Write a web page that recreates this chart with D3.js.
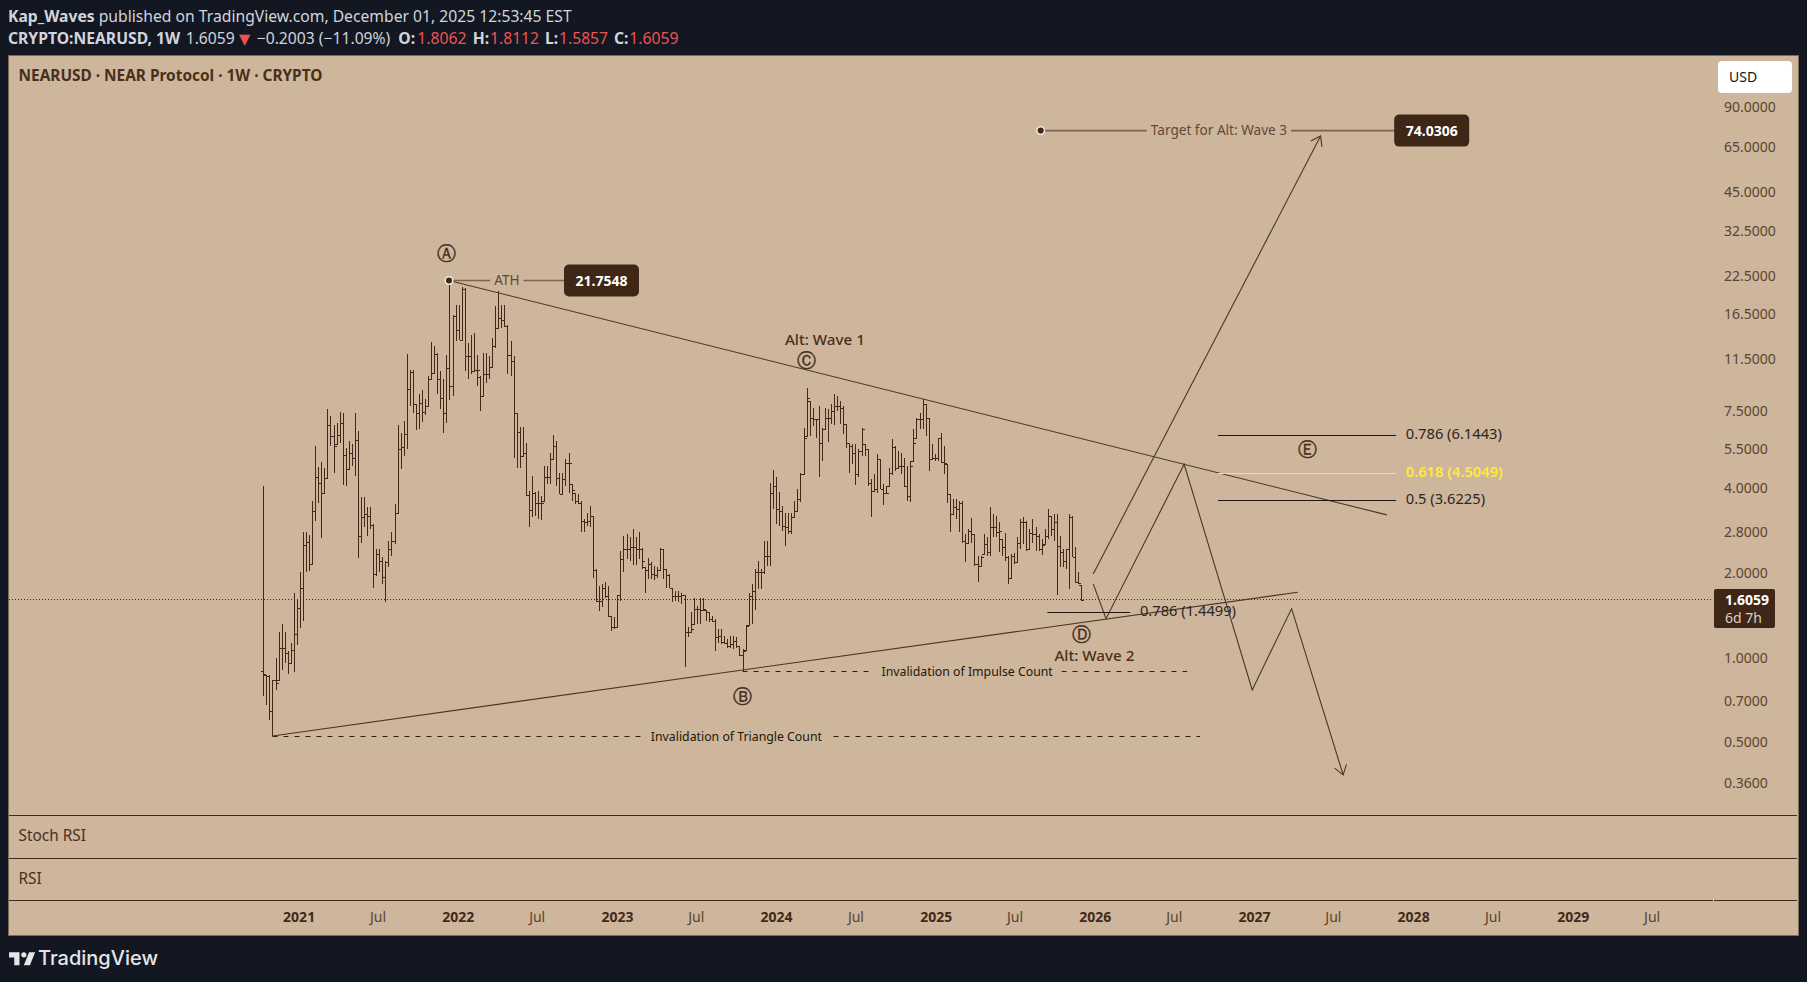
<!DOCTYPE html>
<html lang="en">
<head>
    <meta charset="utf-8">
    <style>
        html, body { margin: 0; background: #131722; overflow: hidden; }
        svg { display: block; }
        text { font-family: "Noto Sans", sans-serif; }
    </style>
</head>
<body>
    <svg width="1807" height="982"></svg>
    <script src="https://cdn.jsdelivr.net/npm/d3@7"></script>
    <script>
        /************************************************************************************
        * Data - weekly bars
        ************************************************************************************/
        const firstWeek = "2020-10-12";
        const highs = [
            4.05,.87,.865,.835,1.0,1.23,1.32,1.235,1.055,1.13,1.69,1.62,2.01,2.80,2.78,2.72,3.58,5.63,4.76,4.96,
            4.72,7.64,7.19,6.67,6.78,7.43,7.39,5.55,5.87,5.71,7.39,6.36,3.70,3.70,3.41,3.41,2.98,2.43,2.43,2.27,
            2.21,2.60,2.80,3.52,6.67,6.28,6.90,11.98,10.46,10.46,7.92,8.58,8.88,8.28,10.0,13.2,12.71,12.04,10.43,9.70,
            11.88,21.7548,16.4,17.85,17.85,20.6,20.4,13.06,14.0,14.17,11.88,9.96,12.04,12.04,11.72,13.6,17.61,19.9,17.85,17.85,
            15.17,13.24,11.72,7.39,6.6,6.6,5.79,3.90,4.41,3.88,3.90,3.75,4.79,4.79,5.34,6.16,5.87,4.53,4.53,5.05,
            5.34,4.12,3.85,3.80,3.60,3.10,3.27,3.46,3.19,2.06,1.80,1.82,1.85,1.80,1.41,1.39,1.67,2.39,2.71,2.75,
            2.67,2.87,2.67,2.78,2.44,2.09,2.25,2.19,2.11,2.10,2.44,2.43,2.06,1.98,1.77,1.72,1.72,1.70,1.67,1.28,
            1.45,1.63,1.53,1.63,1.63,1.47,1.45,1.41,1.37,1.26,1.26,1.19,1.16,1.19,1.19,1.18,1.10,1.07,1.30,1.70,
            1.82,2.06,2.21,2.06,2.60,2.60,4.18,4.63,4.36,3.87,3.46,3.27,3.27,3.27,3.60,3.96,4.53,6.54,9.06,8.13,
            7.70,7.0,7.80,6.54,7.70,7.60,7.91,8.58,8.47,8.13,7.80,6.72,5.79,5.71,5.71,5.48,6.54,5.71,5.48,4.30,
            4.47,5.26,5.05,4.12,4.07,4.72,5.95,5.63,5.41,5.34,5.12,4.79,4.98,6.45,7.10,7.35,8.3,7.91,7.10,5.73,
            5.26,6.03,6.28,5.63,4.85,3.80,3.65,3.65,3.60,3.60,2.75,2.86,3.12,2.75,2.30,2.30,2.75,2.67,3.41,3.23,
            3.19,3.02,2.63,2.76,2.30,2.33,2.35,2.67,3.10,3.15,3.06,2.86,3.10,2.90,2.75,2.63,2.86,3.38,3.19,3.23,
            3.23,2.71,2.43,2.43,3.23,3.19,2.46,2.02,1.8112
        ];
        const lows = [
            .73,.68,.60,.5275,.765,.835,.905,.96,.875,.96,.89,1.11,1.27,1.35,2.02,2.03,2.15,3.06,3.55,2.65,
            3.85,4.30,5.63,4.53,5.71,5.79,4.09,4.07,4.66,4.79,4.41,2.25,2.56,2.90,2.71,2.87,1.77,1.95,2.01,1.82,
            1.58,2.09,2.30,2.53,3.27,4.66,5.19,5.48,7.80,7.39,6.42,6.45,6.85,7.28,7.80,9.70,10.1,8.58,7.60,6.28,
            6.78,8.2,8.47,13.24,13.42,13.24,10.4,9.70,10.1,10.4,9.23,7.5,8.47,9.44,9.70,10.66,12.54,14.76,14.76,14.88,
            10.1,9.96,5.12,4.72,4.72,5.16,3.75,2.90,3.15,3.19,3.10,3.08,3.60,4.12,4.12,5.05,4.07,3.80,3.77,4.07,
            3.85,3.60,3.50,3.50,2.78,2.78,2.92,2.90,1.92,1.58,1.46,1.51,1.63,1.39,1.24,1.26,1.28,1.59,2.01,2.24,
            2.21,2.13,2.13,2.24,2.06,1.70,1.90,1.90,1.89,1.92,2.04,1.90,1.77,1.77,1.57,1.59,1.57,1.55,.925,1.18,
            1.23,1.32,1.32,1.32,1.47,1.35,1.34,1.34,1.055,1.13,1.12,1.115,1.085,1.085,1.07,1.085,1.01,.895,1.06,1.30,
            1.32,1.47,1.75,1.75,1.98,2.12,2.11,3.36,2.98,2.94,2.82,2.49,2.75,2.75,3.15,3.32,3.57,4.47,6.11,6.11,
            6.63,6.03,4.36,4.98,6.45,5.83,6.72,6.67,7.5,6.72,6.19,5.55,4.53,4.85,4.09,4.39,5.19,5.19,4.07,3.15,
            3.90,3.85,3.95,3.48,3.83,4.07,4.43,4.59,4.66,4.47,4.04,3.60,3.57,4.98,6.03,6.48,6.48,6.11,4.59,5.05,
            4.98,4.98,4.92,4.47,3.55,2.78,3.23,3.10,2.80,2.56,2.18,2.56,2.56,2.12,1.85,2.09,2.33,2.30,2.30,2.67,
            2.67,2.36,2.30,2.21,1.82,1.90,2.15,2.16,2.43,2.53,2.39,2.43,2.56,2.39,2.39,2.31,2.53,2.63,2.71,2.60,
            1.67,2.09,2.09,2.06,1.75,2.27,1.84,1.82,1.5857
        ];
        const closes = [
            .875,.86,.645,.83,.81,1.085,1.085,1.04,.96,1.065,1.21,1.50,1.765,2.50,2.57,2.15,3.32,4.36,4.15,3.85,
            4.33,6.67,6.11,5.63,6.16,6.81,5.22,4.68,5.34,5.12,5.92,2.71,3.15,3.23,3.19,2.96,1.98,2.33,2.21,1.93,
            2.19,2.43,2.60,3.27,5.51,5.60,6.19,9.0,10.3,7.92,7.35,8.02,7.43,7.80,9.70,10.23,11.98,9.70,8.35,7.39,
            10.66,9.18,16.3,14.56,13.42,20.3,11.72,11.72,10.4,10.46,10.52,8.47,10.1,10.15,10.75,12.71,14.76,16.0,15.8,15.05,
            11.88,11.25,7.39,6.31,5.19,5.34,3.77,3.34,3.83,3.55,3.55,3.55,4.36,4.36,5.05,5.63,4.32,3.80,4.30,4.92,
            4.92,3.94,3.60,3.55,3.06,3.02,3.06,3.19,2.05,1.59,1.59,1.77,1.65,1.40,1.28,1.28,1.67,2.24,2.43,2.43,
            2.46,2.46,2.43,2.43,2.21,2.04,2.15,1.98,1.96,2.04,2.43,2.06,1.96,1.77,1.66,1.66,1.66,1.67,1.23,1.23,
            1.26,1.49,1.49,1.48,1.49,1.45,1.37,1.35,1.18,1.19,1.14,1.13,1.10,1.115,1.145,1.10,1.025,1.055,1.29,1.66,
            1.72,2.01,2.01,2.01,2.30,2.30,3.85,4.07,3.36,3.32,2.94,2.90,2.82,3.15,3.32,3.65,4.47,6.03,8.35,7.10,
            7.0,7.0,5.79,6.48,7.10,7.10,7.5,7.84,7.84,7.70,6.72,5.79,5.63,5.34,4.47,5.41,6.48,5.48,4.18,3.90,
            3.96,5.05,3.97,3.85,3.85,4.53,5.60,4.72,4.79,4.79,4.07,3.75,4.79,5.79,7.0,7.0,7.91,7.10,5.08,5.12,
            5.12,6.03,4.95,4.90,3.80,3.23,3.41,3.36,3.55,2.60,2.56,2.82,2.75,2.15,2.12,2.27,2.53,2.36,2.90,2.90,
            2.78,2.82,2.46,2.27,1.91,2.30,2.18,2.56,3.02,3.02,2.43,2.76,2.75,2.71,2.43,2.51,2.71,3.19,2.86,3.02,
            2.49,2.36,2.21,2.43,3.15,2.27,1.85,1.84,1.6059
        ];
        const opens = [
            .9,.875,.86,.645,.83,.81,1.085,1.085,1.04,.96,1.065,1.21,1.50,1.765,2.50,2.57,2.15,3.32,4.36,4.15,
            3.85,4.33,6.67,6.11,5.63,6.16,6.81,5.22,4.68,5.34,5.12,5.92,2.71,3.15,3.23,3.19,2.96,1.98,2.33,2.21,
            1.93,2.19,2.43,2.60,3.27,5.51,5.60,6.19,9.0,10.3,7.92,7.35,8.02,7.43,7.80,9.70,10.23,11.98,9.70,8.35,
            7.39,10.66,9.18,16.3,14.56,13.42,20.3,11.72,11.72,10.4,10.46,9.9,8.47,10.1,10.15,10.75,12.71,14.76,16.0,15.8,
            15.05,11.88,11.25,7.39,6.31,5.19,5.34,3.77,3.34,3.83,3.55,3.55,3.55,4.36,4.36,5.05,5.63,4.32,3.80,4.30,
            4.92,4.12,3.85,3.60,3.55,3.06,3.02,3.06,3.19,2.05,1.59,1.59,1.77,1.65,1.40,1.28,1.28,1.67,2.24,2.43,
            2.43,2.46,2.46,2.43,2.43,2.09,2.04,2.15,1.98,1.96,2.04,2.43,2.06,1.96,1.77,1.66,1.66,1.66,1.67,1.23,
            1.23,1.26,1.49,1.49,1.48,1.47,1.45,1.37,1.35,1.18,1.19,1.14,1.13,1.10,1.115,1.145,1.10,1.025,1.055,1.29,
            1.66,1.72,2.01,2.01,2.01,2.30,2.30,3.85,4.07,3.36,3.32,2.94,2.90,2.82,3.15,3.32,3.65,4.47,6.03,8.13,
            7.10,7.0,7.0,5.79,6.48,7.10,7.10,7.5,7.84,7.84,7.70,6.72,5.79,5.63,5.34,4.47,5.41,6.48,5.48,4.18,
            3.90,3.96,5.05,3.97,3.85,3.85,4.53,5.60,4.72,4.79,4.79,4.07,3.75,4.79,5.79,7.0,7.0,7.91,7.10,5.08,
            5.12,5.12,6.03,4.95,4.85,3.80,3.23,3.41,3.36,3.55,2.60,2.56,2.82,2.75,2.15,2.12,2.27,2.53,2.36,2.90,
            2.90,2.78,2.82,2.46,2.27,1.91,2.30,2.18,2.56,3.02,3.02,2.43,2.76,2.75,2.71,2.43,2.51,2.71,3.19,2.86,
            3.02,2.49,2.36,2.21,2.43,3.15,2.27,1.85,1.8062
        ];

        const priceTicks = [90, 65, 45, 32.5, 22.5, 16.5, 11.5, 7.5, 5.5, 4, 2.8, 2, 1, 0.7, 0.5, 0.36];
        const timeTickDates = ["2021-01-01","2021-07-01","2022-01-01","2022-07-01","2023-01-01","2023-07-01",
            "2024-01-01","2024-07-01","2025-01-01","2025-07-01","2026-01-01","2026-07-01","2027-01-01","2027-07-01",
            "2028-01-01","2028-07-01","2029-01-01","2029-07-01"];
        const timeTickLabels = ["2021","Jul","2022","Jul","2023","Jul","2024","Jul","2025","Jul","2026","Jul","2027","Jul","2028","Jul","2029","Jul"];

        // Drawings: w = weeks after firstWeek, p = price
        const lastPrice = 1.6059;
        const trendLines = [
            [{ w: 60.84, p: 21.7548 }, { w: 368.1, p: 3.208 }],
            [{ w: 3, p: 0.5275 }, { w: 338.9, p: 1.706 }]
        ];
        const altArrow = [{ w: 271.9, p: 1.981 }, { w: 346.4, p: 70.9 }];
        const zigzagArrow = [
            { w: 271.9, p: 1.826 }, { w: 276.1, p: 1.375 }, { w: 301.7, p: 4.853 },
            { w: 324, p: 0.768 }, { w: 336.9, p: 1.492 }, { w: 353.8, p: 0.3836 }
        ];
        const fibLevels = [
            { from: 312.8, to: 371.1, labelAt: 374.3, p: 6.1443, text: "0.786 (6.1443)", color: "#1c1712" },
            { from: 312.8, to: 371.1, labelAt: 374.3, p: 4.5049, text: "0.618 (4.5049)", color: "#ffeb3b" },
            { from: 312.8, to: 371.1, labelAt: 374.3, p: 3.6225, text: "0.5 (3.6225)", color: "#1c1712" },
            { from: 256.9, to: 284, labelAt: 287.2, p: 1.4499, text: "0.786 (1.4499)", color: "#1c1712" }
        ];
        const dashedLevels = [
            { from: 157, to: 302.7, textAt: 230.6, p: 0.897, text: "Invalidation of Impulse Count" },
            { from: 3, to: 306.9, textAt: 155, p: 0.5275, text: "Invalidation of Triangle Count" }
        ];
        const priceNotes = [
            { from: 60.84, boxAt: 110.8, textAt: 79.8, p: 21.7548, text: "ATH", box: "21.7548", boxWidth: 75 },
            { from: 254.7, boxAt: 382.8, textAt: 313.1, p: 74.0306, text: "Target for Alt: Wave 3", box: "74.0306", boxWidth: 75 }
        ];
        const waveMarks = [
            { w: 60.1, p: 27.2, text: "\u24B6" },
            { w: 157.1, p: 0.727, text: "\u24B7" },
            { w: 178, p: 11.31, text: "\u24B8" },
            { w: 268.1, p: 1.21, text: "\u24B9" },
            { w: 342, p: 5.49, text: "\u24BA" }
        ];
        const waveLabels = [
            { w: 184, p: 13.4, text: "Alt: Wave 1" },
            { w: 272.3, p: 1.016, text: "Alt: Wave 2" }
        ];

        /************************************************************************************
        * Scales
        ************************************************************************************/
        const paper = "#cdb69b", ink = "#43291a", boxFill = "#3f2718", drawInk = "#4c3627";
        const svg = d3.select("svg");
        const weekMs = 7 * 24 * 3600 * 1000;
        const startDate = new Date(firstWeek + "T00:00:00Z");
        const at = w => new Date(startDate.getTime() + w * weekMs);

        const x = d3.scaleUtc().domain([startDate, at(268)]).range([263.3, 1081.3]);
        const y = d3.scaleLog().domain([0.36, 90]).range([782.7, 106.7]);
        const line = d3.line().x(d => x(at(d.w))).y(d => y(d.p));

        /************************************************************************************
        * Frame and panes
        ************************************************************************************/
        svg.append("rect").attr("x", 8.5).attr("y", 55.5).attr("width", 1790).attr("height", 880)
            .attr("fill", paper).attr("stroke", "#7d6a58");
        [815.5, 858.5, 900.5].forEach(py => {
            svg.append("line").attr("x1", 9).attr("x2", 1797).attr("y1", py).attr("y2", py)
                .attr("stroke", ink).attr("stroke-width", 1);
        });
        svg.append("rect").attr("x", 1713).attr("y", 900).attr("width", 1).attr("height", 1).attr("fill", "#efe6da");

        /************************************************************************************
        * Header
        ************************************************************************************/
        const head = "#d1d4dc", red = "#ef5350";
        const title = svg.append("text").attr("x", 8).attr("y", 22).attr("font-size", 15.7).attr("fill", head);
        title.append("tspan").attr("font-weight", 700).text("Kap_Waves");
        title.append("tspan").text(" published on TradingView.com, December 01, 2025 12:53:45 EST");

        const quote = svg.append("text").attr("x", 8).attr("y", 44).attr("font-size", 15.7).attr("fill", head);
        quote.append("tspan").attr("font-weight", 700).text("CRYPTO:NEARUSD, 1W");
        quote.append("tspan").attr("x", 185.7).text("1.6059");
        quote.append("tspan").attr("x", 239).attr("fill", red).style("font-family", "'DejaVu Sans'").attr("font-size", 14.5).text("\u25BC");
        quote.append("tspan").attr("x", 256.7).text("\u22120.2003 (\u221211.09%)");
        [["O:", "1.8062", 398.3, 417.3], ["H:", "1.8112", 472.7, 490], ["L:", "1.5857", 545, 559], ["C:", "1.6059", 614, 629.3]].forEach(d => {
            quote.append("tspan").attr("x", d[2]).attr("font-weight", 700).text(d[0]);
            quote.append("tspan").attr("x", d[3]).attr("fill", red).text(d[1]);
        });

        svg.append("text").attr("x", 18.5).attr("y", 81).attr("font-size", 15.4).attr("font-weight", 700)
            .attr("fill", "#4a2f1c").text("NEARUSD \u00B7 NEAR Protocol \u00B7 1W \u00B7 CRYPTO");
        svg.append("text").attr("x", 18.5).attr("y", 841).attr("font-size", 15.4).attr("fill", "#4a2f1c").text("Stoch RSI");
        svg.append("text").attr("x", 18.5).attr("y", 884).attr("font-size", 15.4).attr("fill", "#4a2f1c").text("RSI");

        /************************************************************************************
        * Axes
        ************************************************************************************/
        const yAxis = d3.axisRight(y).tickValues(priceTicks).tickFormat(d3.format(".4f")).tickSize(0).tickPadding(0);
        const yAxisG = svg.append("g").attr("transform", "translate(1724,0)").call(yAxis);
        yAxisG.select(".domain").remove();
        yAxisG.selectAll("text").attr("font-size", 14).attr("fill", "#5a4332").style("font-family", "'Noto Sans'");

        const timeTicks = timeTickDates.map(d => new Date(d + "T00:00:00Z"));
        const xAxis = d3.axisBottom(x).tickValues(timeTicks).tickFormat((d, i) => timeTickLabels[i]).tickSize(0).tickPadding(0);
        const xAxisG = svg.append("g").attr("transform", "translate(0,912)").call(xAxis);
        xAxisG.select(".domain").remove();
        xAxisG.selectAll("text")
            .attr("font-size", 14).style("font-family", "'Noto Sans'")
            .attr("font-weight", (d, i) => timeTickLabels[i] === "Jul" ? 400 : 700)
            .attr("fill", (d, i) => timeTickLabels[i] === "Jul" ? "#5a4332" : "#43291a");

        // USD button
        svg.append("rect").attr("x", 1718).attr("y", 61).attr("width", 74).attr("height", 32).attr("rx", 4).attr("fill", "#fff");
        svg.append("text").attr("x", 1729).attr("y", 82).attr("font-size", 14).attr("fill", "#131722").text("USD");

        /************************************************************************************
        * Last price line
        ************************************************************************************/
        svg.append("line").attr("x1", 9).attr("x2", 1711).attr("y1", Math.floor(y(lastPrice)) + 0.5).attr("y2", Math.floor(y(lastPrice)) + 0.5)
            .attr("stroke", ink).attr("stroke-dasharray", "1 2");

        /************************************************************************************
        * OHLC bars
        ************************************************************************************/
        const bars = closes.map((c, i) => ({ i, o: opens[i], h: highs[i], l: lows[i], c }));
        const barPath = d => {
            const bx = Math.round(x(at(d.i))) + 0.5;
            const oy = Math.round(y(Math.min(d.h, Math.max(d.l, d.o)))) + 0.5;
            const cy = Math.round(y(d.c)) + 0.5;
            return `M${bx},${y(d.h)}V${y(d.l)}M${bx - 2.5},${oy}H${bx}M${bx},${cy}H${bx + 2.5}`;
        };
        svg.append("g").selectAll("path").data(bars).join("path")
            .attr("d", barPath).attr("fill", "none").attr("stroke", ink).attr("stroke-width", 1).attr("shape-rendering", "crispEdges");

        /************************************************************************************
        * Drawings
        ************************************************************************************/
        const drawings = svg.append("g").attr("fill", "none");
        trendLines.forEach(d => drawings.append("path").attr("d", line(d)).attr("stroke", drawInk).attr("stroke-width", 1.1));

        function arrow(points) {
            drawings.append("path").attr("d", line(points)).attr("stroke", drawInk).attr("stroke-width", 1.1).attr("stroke-linejoin", "miter");
            // arrow head, from the direction of the last segment
            const a = points[points.length - 2], b = points[points.length - 1];
            const tx = x(at(b.w)), ty = y(b.p);
            const ang = Math.atan2(ty - y(a.p), tx - x(at(a.w)));
            const wing = s => [tx - 11 * Math.cos(ang + s * 0.6), ty - 11 * Math.sin(ang + s * 0.6)];
            drawings.append("path").attr("d", d3.line()([wing(1), [tx, ty], wing(-1)])).attr("stroke", drawInk).attr("stroke-width", 1.1);
        }
        arrow(altArrow);
        arrow(zigzagArrow);

        fibLevels.forEach(d => {
            const ly = Math.round(y(d.p)) + 0.5;
            drawings.append("line").attr("x1", x(at(d.from))).attr("x2", x(at(d.to))).attr("y1", ly).attr("y2", ly)
                .attr("stroke", d.color).attr("stroke-width", 1);
            svg.append("text").attr("x", x(at(d.labelAt))).attr("y", ly + 3.5).attr("font-size", 14.7)
                .attr("font-weight", d.color === "#ffeb3b" ? 600 : 400)
                .attr("fill", d.color === "#ffeb3b" ? d.color : "#2b2622").text(d.text);
        });

        function gapText(group, cx, cy, text, pad, color, size) {
            const t = svg.append("text").attr("x", cx).attr("y", cy + 4.5).attr("text-anchor", "middle")
                .attr("font-size", size).attr("fill", color).text(text);
            const b = t.node().getBBox();
            group.append("rect").attr("x", b.x - pad).attr("y", cy - 3).attr("width", b.width + 2 * pad).attr("height", 6)
                .attr("fill", paper).attr("stroke", "none");
        }

        dashedLevels.forEach(d => {
            const ly = Math.round(y(d.p)) + 0.5;
            drawings.append("line").attr("x1", x(at(d.from))).attr("x2", x(at(d.to))).attr("y1", ly).attr("y2", ly)
                .attr("stroke", "#2f2013").attr("stroke-dasharray", "5 6");
            gapText(drawings, x(at(d.textAt)), ly, d.text, 8, "#241709", 12.3);
        });

        priceNotes.forEach(d => {
            const ly = y(d.p);
            const bx = x(at(d.boxAt));
            drawings.append("line").attr("x1", x(at(d.from))).attr("x2", bx).attr("y1", ly).attr("y2", ly)
                .attr("stroke", "#7d6450").attr("stroke-width", 1.6);
            gapText(drawings, x(at(d.textAt)), ly, d.text, 4, "#5f4a38", 13.6);
            svg.append("circle").attr("cx", x(at(d.from))).attr("cy", ly).attr("r", 3.8)
                .attr("fill", boxFill).attr("stroke", "#f2ece4").attr("stroke-width", 1.5);
            svg.append("rect").attr("x", bx - d.boxWidth / 2).attr("y", ly - 16).attr("width", d.boxWidth).attr("height", 32).attr("rx", 5).attr("fill", boxFill);
            svg.append("text").attr("x", bx).attr("y", ly + 5).attr("text-anchor", "middle").attr("font-size", 14).attr("font-weight", 700)
                .attr("fill", "#fff").text(d.box);
        });

        svg.append("g").selectAll("text").data(waveMarks).join("text")
            .attr("x", d => x(at(d.w))).attr("y", d => y(d.p) + 6.5).attr("text-anchor", "middle")
            .style("font-family", "'DejaVu Sans'").attr("font-size", 19).attr("fill", ink)
            .attr("stroke", ink).attr("stroke-width", 0.35).text(d => d.text);
        svg.append("g").selectAll("text").data(waveLabels).join("text")
            .attr("x", d => x(at(d.w))).attr("y", d => y(d.p) + 5).attr("text-anchor", "middle")
            .attr("font-size", 15.2).attr("font-weight", 500).attr("fill", "#4a2f1c").text(d => d.text);

        /************************************************************************************
        * Last price label
        ************************************************************************************/
        svg.append("rect").attr("x", 1714).attr("y", 589).attr("width", 61).attr("height", 39).attr("rx", 2).attr("fill", boxFill);
        svg.append("text").attr("x", 1725).attr("y", 605).attr("font-size", 14).attr("font-weight", 700).attr("fill", "#fff").text("1.6059");
        svg.append("text").attr("x", 1725).attr("y", 623).attr("font-size", 14).attr("fill", "#d8cfc5").text("6d 7h");

        /************************************************************************************
        * Footer logo
        ************************************************************************************/
        svg.append("path").attr("transform", "translate(7.3,947) scale(0.87)")
            .attr("d", "M14 6H2v6h6v9h6V6Zm12 15h-7l6-15h7l-6 15Zm-7-9a3 3 0 1 0 0-6 3 3 0 0 0 0 6Z").attr("fill", "#e4e5e8");
        svg.append("text").attr("x", 38).attr("y", 965).attr("font-size", 20).attr("font-weight", 500)
            .style("font-family", "Inter").attr("fill", "#e4e5e8").text("TradingView");
    </script>
</body>
</html>
